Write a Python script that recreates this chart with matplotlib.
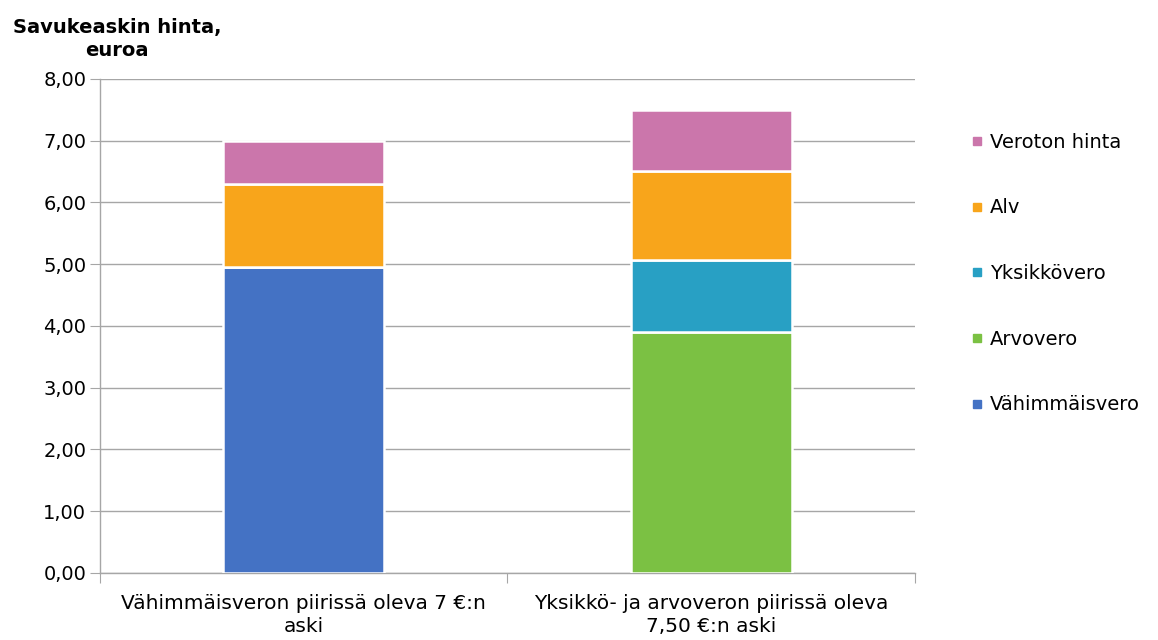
import matplotlib
matplotlib.use("Agg")
import matplotlib.pyplot as plt
from matplotlib.lines import Line2D
import numpy as np

plt.rcParams['font.family'] = ['DejaVu Sans']

# data
categories = ["Vähimmäisveron piirissä oleva 7 €:n\naski",
              "Yksikkö- ja arvoveron piirissä oleva\n7,50 €:n aski"]
series_names = ["Vähimmäisvero", "Arvovero", "Yksikkövero", "Alv", "Veroton hinta"]
vahimmaisvero = [4.95, 0.0]
arvovero = [0.0, 3.90]
yksikkovero = [0.0, 1.17]
alv = [1.35, 1.44]
veroton = [0.70, 0.99]
colors = ["#4472C4", "#7BC143", "#28A0C4", "#F8A51B", "#CB76AB"]

values = [vahimmaisvero, arvovero, yksikkovero, alv, veroton]

fig = plt.figure(figsize=(11.58, 6.40), dpi=100)
ax = fig.add_axes([0.0864, 0.1047, 0.7036, 0.7719])

x = np.arange(len(categories))
bottom = np.zeros(len(categories))
for name, vals, col in zip(series_names, values, colors):
    vals = np.array(vals)
    ax.bar(x, vals, width=0.395, bottom=bottom, color=col,
           edgecolor="white", linewidth=1.8, zorder=3)
    bottom += vals

ax.set_xlim(-0.5, 1.5)
ax.set_ylim(0, 8)
ax.set_yticks(np.arange(0, 9, 1))
ax.set_yticklabels([f"{v:.2f}".replace(".", ",") for v in np.arange(0, 9, 1)])
ax.yaxis.grid(True, color="#A6A6A6", linewidth=1.0, zorder=0)

ax.set_xticks([-0.5, 0.5, 1.5], minor=False)
ax.set_xticklabels([])
ax.set_xticks(x, minor=True)
ax.set_xticklabels(categories, minor=True, fontsize=14.5, linespacing=1.3)
ax.tick_params(axis="x", which="minor", length=0, pad=15)
ax.tick_params(axis="x", which="major", length=7, color="#A6A6A6")
ax.tick_params(axis="y", length=7, color="#A6A6A6", labelsize=14, pad=3)

for s in ["top", "right"]:
    ax.spines[s].set_visible(False)
for s in ["left", "bottom"]:
    ax.spines[s].set_color("#A6A6A6")
    ax.spines[s].set_linewidth(1.0)

fig.text(117 / 1158, 1 - 18 / 640, "Savukeaskin hinta,\neuroa", ha="center",
         va="top", fontsize=14, fontweight="bold", multialignment="center",
         linespacing=1.3)

handles = [Line2D([], [], marker="s", linestyle="none", markersize=6,
                  markerfacecolor=c, markeredgecolor=c) for c in colors]
leg = fig.legend(handles[::-1], series_names[::-1], loc="upper left",
                 bbox_to_anchor=(963 / 1158, 1 - 125 / 640), frameon=False,
                 fontsize=14, handlelength=0.6, handletextpad=0.4,
                 labelspacing=2.4, borderaxespad=0)

fig.savefig("out.png", dpi=100)
